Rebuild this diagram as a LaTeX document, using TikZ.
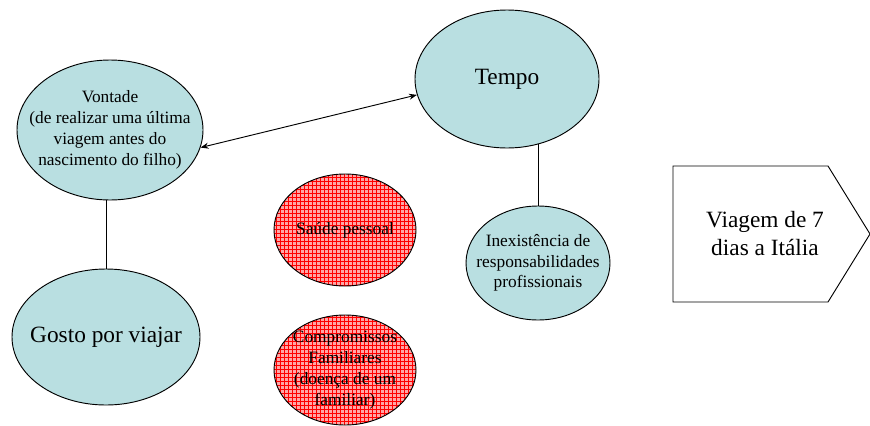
\documentclass[tikz,border=0pt]{standalone}
\usepackage{fontspec}
\setmainfont{Liberation Serif}
\usetikzlibrary{shapes.geometric,patterns,arrows.meta}
\definecolor{bolha}{RGB}{185,223,225}

\begin{document}
\begin{tikzpicture}[
    x=0.75pt, y=-0.75pt,
    line width=0.7pt,
    fator/.style={ellipse, draw, fill=bolha, inner sep=0pt},
    risco/.style={ellipse, draw, inner sep=0pt,
        preaction={fill=red!35!white}, pattern=grid, pattern color=red},
    pequeno/.style={align=center, font=\fontsize{13}{15.6}\selectfont},
    grande/.style={align=center, font=\fontsize{17.5}{21}\selectfont}
]
\useasboundingbox (0,0) rectangle (870,425);
% 1. Fatores a favor
\node[fator, minimum width=139.5pt, minimum height=105pt,
    label={[pequeno]center:{Vontade\\(de realizar uma \'ultima\\viagem antes do\\nascimento do filho)}}]
    (vontade) at (110,130) {};
\node[fator, minimum width=141pt, minimum height=102pt,
    label={[grande]center:{Gosto por viajar}}] (gosto) at (106,337) {};
\node[fator, minimum width=138pt, minimum height=103.5pt,
    label={[grande]center:{Tempo}}] (tempo) at (507,79) {};
\node[fator, minimum width=108pt, minimum height=85.5pt,
    label={[pequeno]center:{Inexist\^encia de\\responsabilidades\\profissionais}}] (inex) at (538,263) {};

% 2. Fatores contra
\node[risco, minimum width=106.5pt, minimum height=84pt,
    label={[pequeno]center:{Sa\'ude pessoal}}] (saude) at (345,230) {};
\node[risco, minimum width=106.5pt, minimum height=82.5pt,
    label={[pequeno]center:{Compromissos\\Familiares\\(doen\c{c}a de um\\familiar)}}] (familia) at (345,370) {};

% 3. Decisao
\draw (673,166) -- (828,166) -- (870,234) -- (828,302) -- (673,302) -- cycle;
\node[grande] (viagem) at (765,234) {Viagem de 7\\dias a It\'alia};

% 4. Ligacoes
\draw[{Stealth[length=6pt]}-{Stealth[length=6pt]}] (vontade.-11) -- (tempo.190);
\draw (vontade.south -| gosto.north) -- (gosto.north);
\draw (tempo.-64.5) -- (tempo.-64.5 |- inex.north);
\end{tikzpicture}
\end{document}
